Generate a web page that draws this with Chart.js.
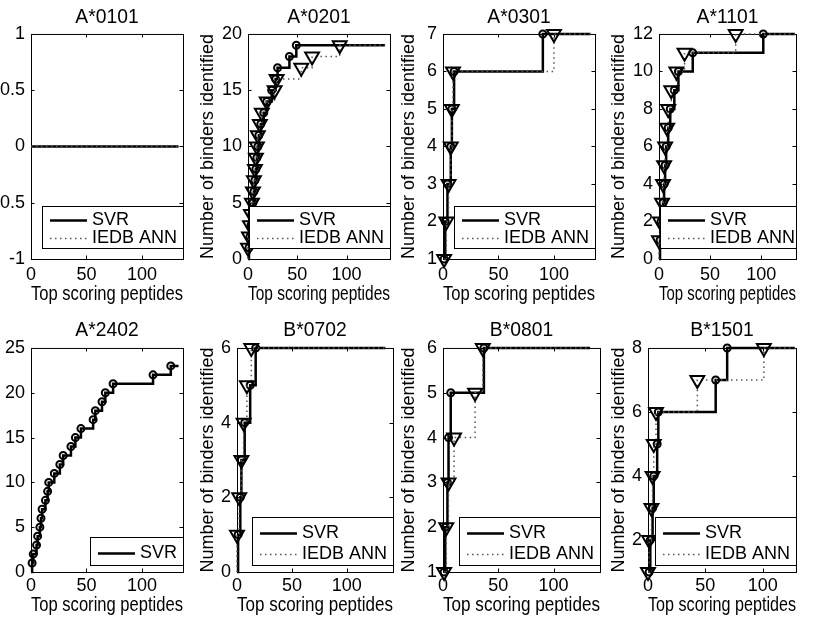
<!DOCTYPE html>
<html>
<head>
<meta charset="utf-8">
<title>Binders identified vs top scoring peptides</title>
<script src="https://cdn.jsdelivr.net/npm/chart.js@4.4.1/dist/chart.umd.min.js"></script>
<style>
  html, body { margin: 0; padding: 0; background: #fff; }
  #fig { position: relative; width: 820px; height: 620px; overflow: hidden; background: #fff; }
  #fig canvas { position: absolute; }
</style>
</head>
<body>
<div id="fig"></div>
<script>
'use strict';

/* ── data ─────────────────────────────────── */
const alleles = ['A*0101', 'A*0201', 'A*0301', 'A*1101', 'A*2402', 'B*0702', 'B*0801', 'B*1501'];

// rank (top scoring peptides) at which each further binder turns up
const svrA0101 = [];
const annA0101 = [];
const svrA0201 = [1, 2, 3, 4, 5, 6, 7, 8, 9, 10, 11, 13, 16, 19, 24, 28, 30, 42, 49];
const annA0201 = [0, 1, 2, 3, 4, 5, 6, 7, 8, 9, 10, 12, 14, 19, 27, 29, 54, 65, 93];
const svrA0301 = [1, 2, 4, 7, 8, 10, 90];
const annA0301 = [1, 3, 5, 7, 8, 9, 100];
const svrA1101 = [1, 2, 4, 5, 6, 7, 9, 11, 15, 19, 33, 102];
const annA1101 = [0, 1, 3, 4, 5, 6, 8, 9, 12, 17, 25, 75];
const svrA2402 = [1, 2, 5, 6, 8, 9, 10, 13, 15, 16, 21, 26, 29, 36, 40, 45, 56, 58, 64, 67, 74, 110, 126];
const annA2402 = null;
const svrB0702 = [1, 3, 4, 7, 12, 17];
const annB0702 = [0, 2, 4, 6, 9, 13];
const svrB0801 = [1, 2, 4, 5, 7, 37];
const annB0801 = [1, 3, 5, 10, 29, 36];
const svrB1501 = [1, 2, 4, 5, 8, 9, 59, 69];
const annB1501 = [0, 1, 3, 4, 5, 7, 43, 101];

const svrHits = [svrA0101, svrA0201, svrA0301, svrA1101, svrA2402, svrB0702, svrB0801, svrB1501];
const annHits = [annA0101, annA0201, annA0301, annA1101, annA2402, annB0702, annB0801, annB1501];

// last ranked peptide (lines run flat up to here)
const lastRank = [133, 139, 133, 133, 133, 135, 133, 128];

// axes
const xMax   = [137, 144, 137, 134, 137, 142, 142, 129];
const xTicks = [0, 50, 100];
const yMin   = [-1, 0, 1, 0, 0, 0, 1, 1];
const yMax   = [1, 20, 7, 12, 25, 6, 6, 8];
const yTicks = [
  [-1, -0.5, 0, 0.5, 1],
  [0, 5, 10, 15, 20],
  [1, 2, 3, 4, 5, 6, 7],
  [0, 2, 4, 6, 8, 10, 12],
  [0, 5, 10, 15, 20, 25],
  [0, 2, 4, 6],
  [1, 2, 3, 4, 5, 6],
  [2, 4, 6, 8],
];

/* ── layout ───────────────────────────────── */
// plot box of each panel on the page: left, top, right, bottom
const panelBox = [
  [31, 34, 183, 259], [248, 34, 390, 259], [443, 34, 595, 259], [659, 34, 796, 259],
  [31, 348, 183, 572], [237, 348, 393, 572], [443, 348, 600, 572], [648, 348, 796, 572],
];
const yTitleGap = [40, 40, 34, 40, 40, 29, 34, 29];
const rowStyle = [
  { titleTop: 12.4, titleBottom: 4.4, tickPad: 5.6, xTitleBottom: 2.6,
    legend: { gap: 10.7, rowH: 18.3, padTop: 4.9, padBottom: 0.9 } },
  { titleTop: 10.9, titleBottom: 5.9, tickPad: 3.5, xTitleBottom: 5.2,
    legend: { gap: 6.7, rowH: 20.6, padTop: 5.7, padBottom: 1.4 } },
];
const AXIS_W = 70, TITLE_H = 40, XAXIS_H = 50, PAD_R = 14;
const FONT = '"Liberation Sans", Arial, Helvetica, sans-serif';
const LABEL_SIZE = 19.3;

Chart.defaults.font.family = FONT;
Chart.defaults.font.size = 18;
Chart.defaults.color = '#000';

/* ── helpers ──────────────────────────────── */
function stepPoints(hits, last, low) {
  const pts = [];
  if (low <= 0) pts.push({ x: 0, y: 0, m: false });
  hits.forEach((x, i) => pts.push({ x, y: i + 1, m: true }));
  pts.push({ x: last, y: hits.length, m: false });
  return pts;
}

// box with inward tick marks
const axesBox = {
  id: 'axesBox',
  beforeDatasetsDraw(chart) {
    const { ctx, chartArea: a, scales: { x, y } } = chart;
    const len = 3.5;
    ctx.save();
    ctx.strokeStyle = '#000';
    ctx.lineWidth = 1;
    ctx.strokeRect(a.left + 0.5, a.top + 0.5, a.right - a.left, a.bottom - a.top);
    ctx.beginPath();
    x.ticks.forEach(t => {
      if (t.value <= x.min || t.value >= x.max) return;
      const px = Math.round(x.getPixelForValue(t.value)) + 0.5;
      ctx.moveTo(px, a.bottom); ctx.lineTo(px, a.bottom - len);
      ctx.moveTo(px, a.top);    ctx.lineTo(px, a.top + len);
    });
    y.ticks.forEach(t => {
      if (t.value <= y.min || t.value >= y.max) return;
      const py = Math.round(y.getPixelForValue(t.value)) + 0.5;
      ctx.moveTo(a.left, py);  ctx.lineTo(a.left + len, py);
      ctx.moveTo(a.right, py); ctx.lineTo(a.right - len, py);
    });
    ctx.stroke();
    ctx.restore();
  },
};

// legend boxed inside the lower right corner of the plot
const insetLegend = {
  id: 'insetLegend',
  afterDraw(chart, args, opts) {
    const { ctx, chartArea: a } = chart;
    const sets = chart.data.datasets;
    ctx.save();
    ctx.font = '18px ' + FONT;
    const textW = Math.max(...sets.map(d => ctx.measureText(d.label).width));
    const w = 8 + 37 + 5 + textW + 6;
    const h = opts.padTop + sets.length * opts.rowH + opts.padBottom;
    const right = a.right;
    const left = Math.round(Math.max(right - w, a.left + 1));
    const bottom = Math.round(a.bottom - opts.gap);
    const top = Math.round(bottom - h);
    ctx.fillStyle = '#fff';
    ctx.fillRect(left, top, right - left, bottom - top);
    ctx.strokeStyle = '#000';
    ctx.lineWidth = 1;
    ctx.strokeRect(left + 0.5, top + 0.5, right - left, bottom - top);
    sets.forEach((d, i) => {
      const cy = top + opts.padTop + opts.rowH * (i + 0.5);
      ctx.beginPath();
      ctx.strokeStyle = d.borderColor;
      ctx.lineWidth = d.borderWidth;
      ctx.setLineDash(d.borderDash || []);
      ctx.moveTo(left + 8, Math.round(cy) + 0.5);
      ctx.lineTo(left + 45, Math.round(cy) + 0.5);
      ctx.stroke();
      ctx.setLineDash([]);
      ctx.fillStyle = '#000';
      ctx.textBaseline = 'middle';
      ctx.textAlign = 'left';
      ctx.fillText(d.label, left + 50, cy);
    });
    ctx.restore();
  },
};

function markerRadius(r) {
  return c => (c.raw && c.raw.m ? r : 0);
}

/* ── panels ───────────────────────────────── */
const fig = document.getElementById('fig');

panelBox.forEach(([l, t, r, b], i) => {
  const row = rowStyle[i < 4 ? 0 : 1];
  const cv = document.createElement('canvas');
  cv.width = (r - l) + AXIS_W + PAD_R;
  cv.height = (b - t) + TITLE_H + XAXIS_H;
  cv.style.left = (l - AXIS_W) + 'px';
  cv.style.top = (t - TITLE_H) + 'px';
  fig.appendChild(cv);

  const datasets = [{
    label: 'SVR',
    data: stepPoints(svrHits[i], lastRank[i], yMin[i]),
    stepped: 'before',
    borderColor: '#000',
    borderWidth: 2.5,
    pointStyle: 'circle',
    pointRadius: markerRadius(3.5),
    pointBorderWidth: 2,
    pointBorderColor: '#000',
    pointBackgroundColor: 'rgba(0,0,0,0)',
    fill: false,
    clip: false,
    order: 1,
  }];
  if (annHits[i]) {
    datasets.push({
      label: 'IEDB ANN',
      data: stepPoints(annHits[i], lastRank[i], yMin[i]),
      stepped: 'before',
      borderColor: '#555',
      borderWidth: 1.5,
      borderDash: [1.5, 3.5],
      pointStyle: 'triangle',
      pointRotation: 180,
      pointRadius: markerRadius(8),
      pointBorderWidth: 2,
      pointBorderColor: '#000',
      pointBackgroundColor: 'rgba(0,0,0,0)',
      fill: false,
      clip: false,
      order: 0,
    });
  }

  new Chart(cv, {
    type: 'line',
    data: { datasets },
    plugins: [axesBox, insetLegend],
    options: {
      responsive: false,
      animation: false,
      events: [],
      layout: { padding: { left: 0, top: 0, right: PAD_R, bottom: 0 } },
      plugins: {
        legend: { display: false },
        tooltip: { enabled: false },
        title: {
          display: true,
          text: alleles[i],
          fullSize: false,
          color: '#000',
          font: { size: LABEL_SIZE, weight: 'normal' },
          padding: { top: row.titleTop, bottom: row.titleBottom },
        },
        insetLegend: row.legend,
      },
      scales: {
        x: {
          type: 'linear',
          min: 0,
          max: xMax[i],
          afterBuildTicks: s => { s.ticks = xTicks.map(value => ({ value })); },
          afterFit: s => { s.height = XAXIS_H; },
          grid: { display: false, drawTicks: false },
          border: { display: false },
          ticks: { padding: row.tickPad, maxRotation: 0, autoSkip: false, callback: v => String(v) },
          title: {
            display: true,
            text: 'Top scoring peptides',
            font: { size: LABEL_SIZE },
            padding: { top: 0, bottom: row.xTitleBottom },
          },
        },
        y: {
          type: 'linear',
          min: yMin[i],
          max: yMax[i],
          afterBuildTicks: s => { s.ticks = yTicks[i].map(value => ({ value })); },
          afterFit: s => { s.width = AXIS_W; },
          grid: { display: false, drawTicks: false },
          border: { display: false },
          ticks: { padding: 6, autoSkip: false, callback: v => String(v) },
          title: {
            display: true,
            text: 'Number of binders identified',
            font: { size: 18 },
            padding: { top: AXIS_W - 10.8 - yTitleGap[i], bottom: 0 },
          },
        },
      },
    },
  });
});
</script>
</body>
</html>
